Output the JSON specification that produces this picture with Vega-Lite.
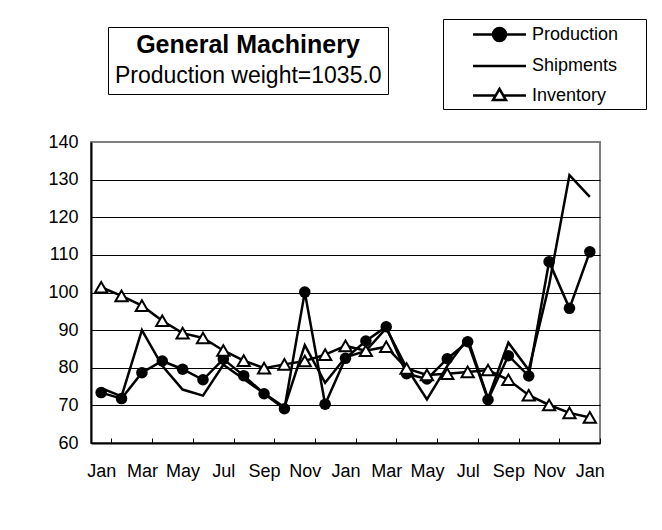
{
  "$schema": "https://vega.github.io/schema/vega-lite/v6.json",
  "width": 509,
  "height": 301,
  "autosize": "none",
  "padding": {"left": 91, "top": 142, "right": 62, "bottom": 87},
  "background": "white",
  "config": {
    "font": "Liberation Sans",
    "view": {"stroke": "#808080", "strokeWidth": 2}
  },
  "data": {
    "values": [
      {"period": "Jan 1", "series": "Production", "value": 73.4},
      {"period": "Feb 1", "series": "Production", "value": 71.8},
      {"period": "Mar 1", "series": "Production", "value": 78.7},
      {"period": "Apr 1", "series": "Production", "value": 81.8},
      {"period": "May 1", "series": "Production", "value": 79.6},
      {"period": "Jun 1", "series": "Production", "value": 76.8},
      {"period": "Jul 1", "series": "Production", "value": 82.3},
      {"period": "Aug 1", "series": "Production", "value": 77.9},
      {"period": "Sep 1", "series": "Production", "value": 73.1},
      {"period": "Oct 1", "series": "Production", "value": 69.1},
      {"period": "Nov 1", "series": "Production", "value": 100.1},
      {"period": "Dec 1", "series": "Production", "value": 70.3},
      {"period": "Jan 2", "series": "Production", "value": 82.5},
      {"period": "Feb 2", "series": "Production", "value": 87.1},
      {"period": "Mar 2", "series": "Production", "value": 90.9},
      {"period": "Apr 2", "series": "Production", "value": 78.4},
      {"period": "May 2", "series": "Production", "value": 77.0},
      {"period": "Jun 2", "series": "Production", "value": 82.4},
      {"period": "Jul 2", "series": "Production", "value": 86.9},
      {"period": "Aug 2", "series": "Production", "value": 71.5},
      {"period": "Sep 2", "series": "Production", "value": 83.2},
      {"period": "Oct 2", "series": "Production", "value": 77.8},
      {"period": "Nov 2", "series": "Production", "value": 108.2},
      {"period": "Dec 2", "series": "Production", "value": 95.8},
      {"period": "Jan 3", "series": "Production", "value": 110.8},
      {"period": "Jan 1", "series": "Shipments", "value": 74.6},
      {"period": "Feb 1", "series": "Shipments", "value": 72.4},
      {"period": "Mar 1", "series": "Shipments", "value": 90.0},
      {"period": "Apr 1", "series": "Shipments", "value": 80.5},
      {"period": "May 1", "series": "Shipments", "value": 74.2},
      {"period": "Jun 1", "series": "Shipments", "value": 72.6},
      {"period": "Jul 1", "series": "Shipments", "value": 80.8},
      {"period": "Aug 1", "series": "Shipments", "value": 77.0},
      {"period": "Sep 1", "series": "Shipments", "value": 73.2},
      {"period": "Oct 1", "series": "Shipments", "value": 69.5},
      {"period": "Nov 1", "series": "Shipments", "value": 86.0},
      {"period": "Dec 1", "series": "Shipments", "value": 76.0},
      {"period": "Jan 2", "series": "Shipments", "value": 82.8},
      {"period": "Feb 2", "series": "Shipments", "value": 84.5},
      {"period": "Mar 2", "series": "Shipments", "value": 90.5},
      {"period": "Apr 2", "series": "Shipments", "value": 80.0},
      {"period": "May 2", "series": "Shipments", "value": 71.6},
      {"period": "Jun 2", "series": "Shipments", "value": 80.5},
      {"period": "Jul 2", "series": "Shipments", "value": 87.8},
      {"period": "Aug 2", "series": "Shipments", "value": 71.8},
      {"period": "Sep 2", "series": "Shipments", "value": 86.7},
      {"period": "Oct 2", "series": "Shipments", "value": 79.4},
      {"period": "Nov 2", "series": "Shipments", "value": 102.0},
      {"period": "Dec 2", "series": "Shipments", "value": 131.2},
      {"period": "Jan 3", "series": "Shipments", "value": 125.4},
      {"period": "Jan 1", "series": "Inventory", "value": 101.4},
      {"period": "Feb 1", "series": "Inventory", "value": 99.1},
      {"period": "Mar 1", "series": "Inventory", "value": 96.5},
      {"period": "Apr 1", "series": "Inventory", "value": 92.5},
      {"period": "May 1", "series": "Inventory", "value": 89.2},
      {"period": "Jun 1", "series": "Inventory", "value": 87.9},
      {"period": "Jul 1", "series": "Inventory", "value": 84.6},
      {"period": "Aug 1", "series": "Inventory", "value": 81.9},
      {"period": "Sep 1", "series": "Inventory", "value": 79.9},
      {"period": "Oct 1", "series": "Inventory", "value": 80.9},
      {"period": "Nov 1", "series": "Inventory", "value": 81.8},
      {"period": "Dec 1", "series": "Inventory", "value": 83.5},
      {"period": "Jan 2", "series": "Inventory", "value": 85.8},
      {"period": "Feb 2", "series": "Inventory", "value": 84.5},
      {"period": "Mar 2", "series": "Inventory", "value": 85.6},
      {"period": "Apr 2", "series": "Inventory", "value": 79.8},
      {"period": "May 2", "series": "Inventory", "value": 78.1},
      {"period": "Jun 2", "series": "Inventory", "value": 78.4},
      {"period": "Jul 2", "series": "Inventory", "value": 78.9},
      {"period": "Aug 2", "series": "Inventory", "value": 79.4},
      {"period": "Sep 2", "series": "Inventory", "value": 76.8},
      {"period": "Oct 2", "series": "Inventory", "value": 72.7},
      {"period": "Nov 2", "series": "Inventory", "value": 70.1},
      {"period": "Dec 2", "series": "Inventory", "value": 68.0},
      {"period": "Jan 3", "series": "Inventory", "value": 66.8}
    ]
  },
  "encoding": {
    "x": {
      "field": "period",
      "type": "ordinal",
      "sort": null,
      "scale": {"type": "band", "paddingInner": 0, "paddingOuter": 0},
      "axis": {
        "title": null,
        "values": ["Jan 1", "Mar 1", "May 1", "Jul 1", "Sep 1", "Nov 1", "Jan 2", "Mar 2", "May 2", "Jul 2", "Sep 2", "Nov 2", "Jan 3"],
        "labelExpr": "datum.value ? split(datum.value, ' ')[0] : ''",
        "tickBand": "extent",
        "tickSize": -5,
        "tickWidth": 1,
        "tickColor": "black",
        "domainColor": "black",
        "domainWidth": 2,
        "labelAngle": 0,
        "labelOverlap": false,
        "labelFontSize": 18,
        "labelColor": "black",
        "labelPadding": 24,
        "grid": false
      }
    },
    "y": {
      "field": "value",
      "type": "quantitative",
      "scale": {"domain": [60, 140], "nice": false, "zero": false},
      "axis": {
        "title": null,
        "values": [60, 70, 80, 90, 100, 110, 120, 130, 140],
        "grid": true,
        "gridColor": {"condition": {"test": "datum.value === 140", "value": "#808080"}, "value": "black"},
        "gridWidth": 1,
        "ticks": false,
        "domainColor": "black",
        "domainWidth": 2,
        "labelFontSize": 18,
        "labelColor": "black",
        "labelPadding": 13
      }
    }
  },
  "layer": [
    {
      "mark": {"type": "line", "strokeWidth": 2.5},
      "encoding": {
        "color": {
          "field": "series",
          "type": "nominal",
          "scale": {"domain": ["Production", "Shipments", "Inventory"], "range": ["black", "black", "black"]},
          "legend": {
            "orient": "none",
            "legendX": 352,
            "legendY": -123,
            "title": null,
            "strokeColor": "black",
            "fillColor": "white",
            "padding": 4,
            "rowPadding": 8.5,
            "symbolSize": 400,
            "symbolStrokeWidth": 2.5,
            "symbolOffset": 41,
            "labelFontSize": 18,
            "labelColor": "black",
            "labelOffset": 21,
            "encode": {
              "symbols": {
                "update": {
                  "shape": {"signal": "datum.value === 'Production' ? 'M-2.65,0H2.65M0.65,0A0.65,0.65,0,1,1,-0.65,0A0.65,0.65,0,1,1,0.65,0Z' : datum.value === 'Shipments' ? 'M-2.65,0H2.65M13.7,0' : 'M-2.65,0H-0.4M0.4,0H2.65M0,-0.65L0.65,0.45L-0.65,0.45Z'"},
                  "fill": {"signal": "datum.value === 'Production' ? 'black' : datum.value === 'Inventory' ? 'white' : 'transparent'"},
                  "stroke": {"value": "black"},
                  "strokeWidth": {"value": 2.5}
                }
              }
            }
          }
        }
      }
    },
    {
      "transform": [{"filter": "datum.series === 'Production'"}],
      "mark": {"type": "point", "shape": "circle", "filled": true, "color": "black", "opacity": 1, "size": 133}
    },
    {
      "transform": [{"filter": "datum.series === 'Inventory'"}],
      "mark": {"type": "point", "shape": "triangle-up", "filled": true, "fill": "white", "stroke": "black", "strokeWidth": 2, "opacity": 1, "size": 150}
    },
    {
      "data": {"values": [{"note": "Production weight=1035.0"}]},
      "mark": {"type": "point", "opacity": 0},
      "encoding": {
        "x": null,
        "y": null,
        "shape": {
          "field": "note",
          "type": "nominal",
          "legend": {
            "orient": "none",
            "legendX": 17,
            "legendY": -115,
            "title": "General Machinery",
            "titleFontSize": 25,
            "titleFontWeight": "bold",
            "titleColor": "black",
            "titleAnchor": "middle",
            "titlePadding": 6,
            "titleLimit": 500,
            "labelFontSize": 23,
            "labelColor": "black",
            "labelOffset": -22,
            "labelLimit": 500,
            "symbolSize": 0,
            "symbolStrokeWidth": 0,
            "symbolOpacity": 0,
            "strokeColor": "black",
            "fillColor": "white",
            "padding": 6
          }
        }
      }
    }
  ]
}
